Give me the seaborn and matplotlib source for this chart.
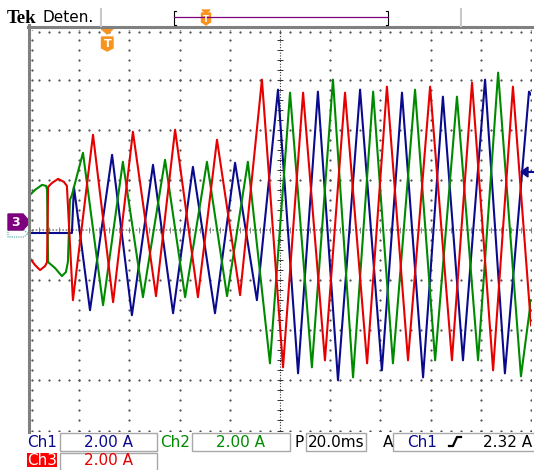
import numpy as np
import pandas as pd
import seaborn as sns
import matplotlib.pyplot as plt
from matplotlib.lines import Line2D
from matplotlib.patches import Polygon, Rectangle

# scope settings: 20 ms/div, 2 A/div, 10 x 8 divisions
# channel traces (time in ms from left edge, current in A)
ch1_t = [0, 17.1, 17.9, 24.3, 33.1, 41.0, 49.4, 57.4, 65.3, 74.1, 82.1, 90.8,
         99.2, 107.2, 115.1, 123.1, 131.9, 140.6, 148.6, 157.0, 164.9, 172.9,
         181.7, 189.6, 199.2, 200]
ch1_i = [-0.12, -0.12, 1.72, -3.20, 3.00, -3.40, 2.60, -3.32, 2.52, -3.32, 2.68, -2.80,
         5.60, -5.72, 5.52, -6.00, 5.60, -5.60, 5.48, -5.88, 5.32, -5.20,
         6.00, -5.72, 5.52, 5.40]

ch2_t = [0, 2.4, 5.2, 6.8, 7.2, 7.6, 10.4, 13.1, 14.7, 15.5, 16.3, 17.1, 21.5,
         29.5, 37.4, 45.4, 54.2, 62.2, 70.9, 78.9, 87.2, 96.0, 104.0, 112.7,
         121.1, 129.1, 137.1, 145.0, 153.8, 161.8, 170.5, 178.9, 186.9, 196.0, 200]
ch2_i = [1.36, 1.60, 1.80, 1.76, 1.60, -1.28, -1.52, -1.84, -1.68, -1.28, 1.20, 1.40, 3.08,
         -3.00, 2.72, -2.68, 2.80, -2.68, 2.72, -2.64, 2.72, -5.32, 5.48, -5.48,
         6.00, -5.88, 5.52, -5.32, 5.60, -5.20, 5.32, -5.20, 6.28, -5.84, -2.80]

ch3_t = [0, 2.4, 4.4, 6.4, 7.2, 7.6, 9.2, 11.6, 13.9, 15.1, 17.5, 25.5, 33.5,
         41.4, 50.6, 58.2, 67.3, 74.9, 84.1, 92.8, 101.2, 109.2, 117.9, 125.9,
         134.7, 142.6, 151.0, 159.8, 168.5, 176.5, 184.9, 192.8, 200]
ch3_i = [-1.08, -1.40, -1.60, -1.44, -1.28, 1.72, 1.88, 2.04, 1.92, 1.76, -2.80, 3.80, -2.88,
         3.92, -2.64, 4.00, -2.68, 3.60, -2.60, 6.00, -5.48, 5.48, -5.20, 5.48,
         -5.32, 5.72, -5.20, 5.72, -5.20, 5.88, -5.60, 5.72, -3.80]

ch_labels = ["Ch1", "Ch2", "Ch3"]
ch_scales = ["2.00 A", "2.00 A", "2.00 A"]
timebase = "20.0ms"
trig_source, trig_level = "Ch1", "2.32 A"

BLUE = "#0a0a8c"
GREEN = "#008a00"
RED = "#e60000"
ORANGE = "#f7931e"
PURPLE = "#7f007f"

W, H = 534, 470


def px(x, y):
    return x / W, 1 - y / H


fig = plt.figure(figsize=(W / 100, H / 100), dpi=100)
fig.patch.set_facecolor("white")
ax = fig.add_axes([29 / W, (H - 430.5) / H, 502 / W, 401 / H])
ax.set_xlim(0, 200)
ax.set_ylim(-8, 8)
ax.set_xticks([])
ax.set_yticks([])
for s in ax.spines.values():
    s.set_visible(False)

# graticule: a dot every 0.2 div on each division line
dot = dict(marker="s", markersize=0.6, color="#555555", linestyle="none", zorder=1)
minor_x = np.arange(0, 200.1, 4)
minor_y = np.arange(-8, 8.01, 0.4)
for gx in [1] + list(range(20, 200, 20)) + [200]:
    if gx != 100:
        ax.plot(np.full_like(minor_y, gx), minor_y, **dot)
for gy in [-8] + list(range(-6, 8, 2)) + [7.9]:
    if gy != 0:
        ax.plot(minor_x, np.full_like(minor_x, gy), **dot)
ax.axhline(0, color="#8a8a8a", lw=1.2, ls=(0, (1, 1)), zorder=1)
ax.axvline(100, color="#333333", lw=0.8, ls=(0, (1, 1.5)), zorder=1)
ax.plot(np.full_like(minor_y, 100), minor_y, marker="_", markersize=4.5, color="#333333",
        linestyle="none", markeredgewidth=0.7, zorder=1)
ax.plot(minor_x, np.zeros_like(minor_x), marker="|", markersize=4, color="#777777",
        linestyle="none", markeredgewidth=0.6, zorder=1)

# traces
for t, i, c in [(ch1_t, ch1_i, BLUE), (ch2_t, ch2_i, GREEN), (ch3_t, ch3_i, RED)]:
    sns.lineplot(x=t, y=i, color=c, lw=1.5, ax=ax, sort=False, estimator=None, zorder=3)

# window frame
fig.add_artist(Line2D([28 / W, 1], [1 - 26.5 / H, 1 - 26.5 / H], color="#808080", lw=2.2))
fig.add_artist(Line2D([28.5 / W, 28.5 / W], [1 - 25 / H, 1 - 432 / H], color="#808080", lw=2.2))

# header
fig.text(*px(7, 23), "Tek", fontsize=13.5, fontweight="bold", family="Liberation Serif",
         ha="left", va="baseline")
fig.text(*px(42, 22), "Deten.", fontsize=11, family="DejaVu Sans", ha="left", va="baseline")
for gx in (101, 461):
    fig.add_artist(Line2D([gx / W, gx / W], [1 - 9 / H, 1 - 26 / H], color="#c8c8c8", lw=1.5))
fig.add_artist(Line2D([176 / W, 174 / W, 174 / W, 176 / W],
                      [1 - 11 / H, 1 - 11 / H, 1 - 25 / H, 1 - 25 / H], color="black", lw=0.8))
fig.add_artist(Line2D([386 / W, 388 / W, 388 / W, 386 / W],
                      [1 - 11 / H, 1 - 11 / H, 1 - 25 / H, 1 - 25 / H], color="black", lw=0.8))
fig.add_artist(Line2D([174 / W, 388 / W], [1 - 17 / H, 1 - 17 / H], color=PURPLE, lw=0.9))


def shield(x0, x1, ytop, ybot, label, fs):
    xm = (x0 + x1) / 2
    pts = [px(x0, ytop), px(x1, ytop), px(x1, ybot - 3), px(xm, ybot), px(x0, ybot - 3)]
    fig.add_artist(Polygon(pts, closed=True, facecolor=ORANGE, edgecolor=ORANGE,
                           transform=fig.transFigure))
    fig.text(*px(xm, (ytop + ybot) / 2), label, color="white", fontsize=fs,
             fontweight="bold", ha="center", va="center")


shield(201.5, 210.5, 13, 25, "T", 6)
fig.add_artist(Polygon([px(202, 10), px(210, 10), px(206, 13)], closed=True,
                       facecolor=ORANGE, edgecolor=ORANGE, transform=fig.transFigure))
fig.add_artist(Polygon([px(101.5, 29), px(113, 29), px(107.2, 34)], closed=True,
                       facecolor=ORANGE, edgecolor=ORANGE, transform=fig.transFigure))
shield(101.5, 113, 37, 51, "T", 8)

# ground markers on the left
fig.add_artist(Polygon([px(8, 230), px(24, 230), px(28, 233.5), px(24, 237), px(8, 237)],
                       closed=True, fill=False, edgecolor="#3aa6a6", lw=0.8, ls=(0, (1, 1)),
                       transform=fig.transFigure))
fig.add_artist(Polygon([px(8, 214), px(23, 214), px(30, 222), px(23, 230), px(8, 230)],
                       closed=True, facecolor=PURPLE, edgecolor=PURPLE,
                       transform=fig.transFigure))
fig.text(*px(16, 222.5), "3", color="white", fontsize=9, fontweight="bold",
         ha="center", va="center")

# trigger level arrow
fig.add_artist(Line2D([525 / W, 534 / W], [1 - 172 / H, 1 - 172 / H], color=BLUE, lw=1.5))
fig.add_artist(Polygon([px(521, 172), px(528, 167), px(528, 177)], closed=True,
                       facecolor=BLUE, edgecolor=BLUE, transform=fig.transFigure))

# readout boxes
def box(x0, x1, y0, y1):
    fig.add_artist(Rectangle(px(x0, y1), (x1 - x0) / W, (y1 - y0) / H, fill=False,
                             edgecolor="#a8a8a8", lw=1, transform=fig.transFigure))


fs = 11
box(60, 157, 433, 451)
box(192, 290, 433, 451)
box(306, 366, 433, 451)
box(393, 540, 433, 451)
box(60, 157, 453, 470.5)
fig.text(*px(27, 447), ch_labels[0], color=BLUE, fontsize=fs, va="baseline")
fig.text(*px(108, 447), ch_scales[0], color=BLUE, fontsize=fs, ha="center", va="baseline")
fig.text(*px(160, 447), ch_labels[1], color=GREEN, fontsize=fs, va="baseline")
fig.text(*px(241, 447), ch_scales[1], color=GREEN, fontsize=fs, ha="center", va="baseline")
fig.text(*px(294, 447), "P", color="black", fontsize=fs, va="baseline")
fig.text(*px(336, 447), timebase, color="black", fontsize=fs, ha="center", va="baseline")
fig.text(*px(383, 447), "A", color="black", fontsize=fs, va="baseline")
fig.text(*px(407, 447), trig_source, color=BLUE, fontsize=fs, va="baseline")
fig.add_artist(Line2D([449 / W, 453 / W, 457 / W, 461 / W],
                      [1 - 446 / H, 1 - 446 / H, 1 - 437 / H, 1 - 437 / H],
                      color="black", lw=1.6))
fig.text(*px(532, 447), trig_level, color="black", fontsize=fs, ha="right", va="baseline")
fig.add_artist(Rectangle(px(27, 467), 30 / W, 14 / H, facecolor="#ff0000", edgecolor="none",
                         transform=fig.transFigure))
fig.text(*px(27.5, 465), ch_labels[2], color="white", fontsize=fs, va="baseline")
fig.text(*px(108, 465), ch_scales[2], color=RED, fontsize=fs, ha="center", va="baseline")

fig.savefig("out.png", dpi=100, facecolor="white")
plt.close(fig)
